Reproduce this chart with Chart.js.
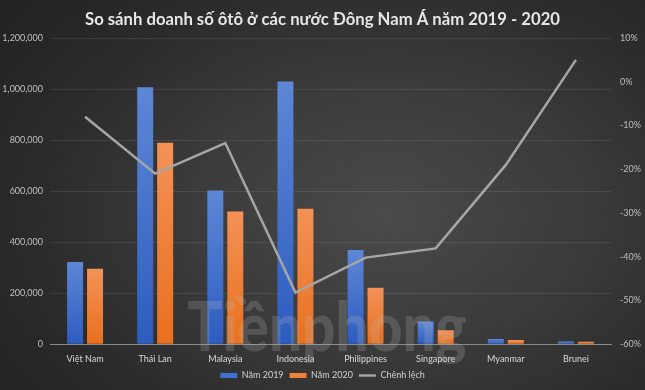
<!DOCTYPE html>
<html>
<head>
<meta charset="utf-8">
<script src="https://cdn.jsdelivr.net/npm/chart.js@4"></script>
<style>
  html, body { margin: 0; padding: 0; }
  body {
    width: 645px; height: 390px; overflow: hidden;
    background: radial-gradient(ellipse 75% 85% at 60% 55%, #4a4a4a 0%, #3b3b3b 40%, #2a2a2a 75%, #222 100%);
  }
  #wrap { position: relative; width: 645px; height: 390px; }
</style>
</head>
<body>
<div id="wrap"><canvas id="chartDoanhSo" width="645" height="390"></canvas></div>
<script>
const categories = ["Việt Nam", "Thái Lan", "Malaysia", "Indonesia", "Philippines", "Singapore", "Myanmar", "Brunei"];
const sales2019 = [322000, 1007000, 602000, 1030000, 369000, 89000, 20000, 11000];
const sales2020 = [296000, 790000, 520000, 531000, 221000, 55000, 16000, 10000];
const chenhLech = [-8, -21, -14, -48.2, -40.2, -38.1, -19, 5];

// gradient per bar, lighter at the top
function barFill(top, bottom) {
  return function (ctx) {
    const chart = ctx.chart;
    if (!chart.chartArea || ctx.raw == null) return bottom;
    const y = chart.scales.y;
    const y0 = y.getPixelForValue(ctx.raw);
    const y1 = y.getPixelForValue(0);
    if (!isFinite(y0) || y1 - y0 < 1) return bottom;
    const g = chart.ctx.createLinearGradient(0, y0, 0, y1);
    g.addColorStop(0, top);
    g.addColorStop(1, bottom);
    return g;
  };
}

const watermark = {
  id: "watermark",
  afterDatasetsDraw(chart) {
    const c = chart.ctx;
    c.save();
    c.translate(327, 351);
    c.scale(0.86, 1);
    c.font = "900 68px Lato";
    c.fillStyle = "rgba(185,185,185,0.22)";
    c.textAlign = "center";
    c.textBaseline = "alphabetic";
    c.fillText("Tiềnphong", 0, 0);
    c.restore();
  }
};

new Chart(document.getElementById("chartDoanhSo"), {
  type: "bar",
  data: {
    labels: categories,
    datasets: [
      {
        label: "Năm 2019",
        data: sales2019,
        backgroundColor: barFill("#5d87d6", "#2d5cc0"),
        yAxisID: "y",
        order: 1,
        categoryPercentage: 0.57,
        barPercentage: 0.8
      },
      {
        label: "Năm 2020",
        data: sales2020,
        backgroundColor: barFill("#f39257", "#e8701e"),
        yAxisID: "y",
        order: 1,
        categoryPercentage: 0.57,
        barPercentage: 0.8
      },
      {
        type: "line",
        label: "Chênh lệch",
        data: chenhLech,
        borderColor: "#a6a6a6",
        backgroundColor: "#a6a6a6",
        borderWidth: 2.5,
        pointRadius: 0,
        tension: 0,
        yAxisID: "y1",
        order: 0,
        pointStyle: "line"
      }
    ]
  },
  options: {
    responsive: false,
    animation: false,
    devicePixelRatio: 1,
    layout: { padding: { left: 0, right: 0, top: 0, bottom: 0 } },
    plugins: {
      title: {
        display: true,
        text: "So sánh doanh số ôtô ở các nước Đông Nam Á năm 2019 - 2020",
        color: "#e6e6e6",
        font: { family: "Lato", size: 16.7, weight: "bold" },
        padding: { top: 10, bottom: 8 }
      },
      legend: {
        position: "bottom",
        sort: (a, b) => a.datasetIndex - b.datasetIndex,
        labels: {
          color: "#d0d0d0",
          font: { family: "Lato", size: 9 },
          usePointStyle: true,
          pointStyleWidth: 17,
          boxHeight: 5,
          padding: 6,
          generateLabels(chart) {
            const cols = ["#3f6fd0", "#f08136", "#a6a6a6"];
            return chart.data.datasets.map((ds, i) => ({
              text: ds.label,
              fillStyle: cols[i],
              strokeStyle: cols[i],
              lineWidth: i === 2 ? 2.5 : 0,
              pointStyle: i === 2 ? "line" : "rect",
              fontColor: "#d0d0d0",
              datasetIndex: i,
              hidden: false
            }));
          }
        }
      },
      tooltip: { enabled: false }
    },
    scales: {
      x: {
        grid: { display: false },
        border: { color: "#8a8a8a", width: 1 },
        ticks: { color: "#d9d9d9", font: { family: "Lato", size: 9 }, padding: 1, maxRotation: 0 }
      },
      y: {
        position: "left",
        min: 0,
        max: 1200000,
        ticks: {
          stepSize: 200000,
          color: "#bfbfbf",
          font: { family: "Lato", size: 9 },
          padding: 7,
          callback: v => v.toLocaleString("en-US")
        },
        grid: { color: "rgba(255,255,255,0.09)", drawTicks: false },
        border: { display: false },
        afterFit(s) { s.width = 50; }
      },
      y1: {
        position: "right",
        min: -60,
        max: 10,
        ticks: {
          stepSize: 10,
          color: "#bfbfbf",
          font: { family: "Lato", size: 9 },
          padding: 9,
          callback: v => v + "%"
        },
        grid: { drawOnChartArea: false, drawTicks: false },
        border: { display: false },
        afterFit(s) { s.width = 34; }
      }
    }
  },
  plugins: [watermark]
});
</script>
</body>
</html>
